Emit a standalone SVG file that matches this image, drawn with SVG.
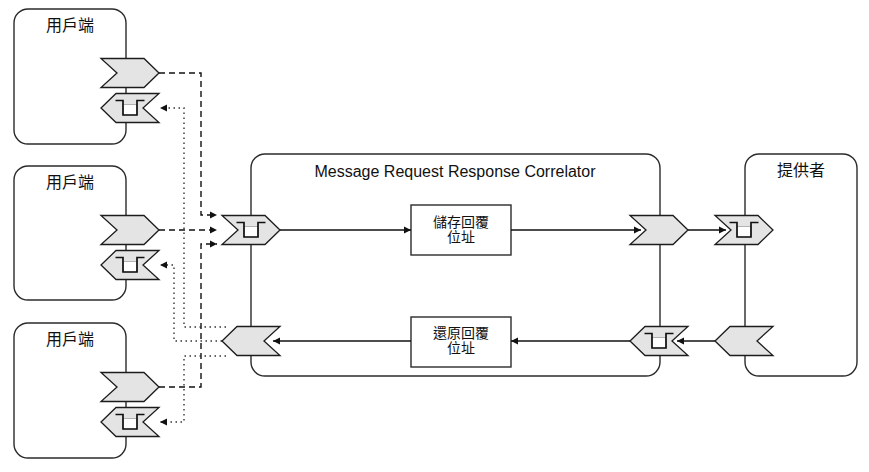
<svg xmlns="http://www.w3.org/2000/svg" width="869" height="472" viewBox="0 0 869 472">
<style>
text{font-family:"Liberation Sans","Noto Sans CJK TC",sans-serif;font-size:14px;fill:#111;text-anchor:middle}
.big{font-size:16px}
.box{fill:#fff;stroke:#2b2b2b;stroke-width:1.4}
.ch{fill:#e4e4e4;stroke:#1c1c1c;stroke-width:1.3;stroke-linejoin:miter}
.g{fill:#fff;stroke:#888;stroke-width:0.6}
.gt{fill:none;stroke:#111;stroke-width:1.7}
.c{fill:none;stroke:#111;stroke-width:1.3}
.dash{stroke-dasharray:6 4;stroke-width:1.4}
.dot{stroke-dasharray:1.5 3.5;stroke-width:1.4;stroke:#333}
</style>
<defs>
<marker id="a" markerUnits="userSpaceOnUse" markerWidth="8" markerHeight="8" refX="7" refY="4" orient="auto"><path d="M0 0.5L7 4L0 7.5Z" fill="#111"/></marker>
<g id="r"><path class="ch" d="M-29 -14.500H14L29 0L14 14.500H-29L-13 0Z"/></g>
<g id="l"><path class="ch" d="M29 -14.500H-14L-29 0L-14 14.500H29L13 0Z"/></g>
<g id="m"><path class="g" d="M-7 -3.500H7V7H-7Z"/><path class="gt" d="M-14.500 -7.500H-7V7H7V-7.500H14.500"/></g>
</defs>
<g id="client1"><rect class="box" x="14" y="9" width="112" height="135" rx="14"/><text class="big" x="70" y="31">用戶端</text></g>
<g id="client2"><rect class="box" x="14" y="166" width="112" height="134" rx="14"/><text class="big" x="70" y="188">用戶端</text></g>
<g id="client3"><rect class="box" x="14" y="323" width="112" height="135" rx="14"/><text class="big" x="70" y="345">用戶端</text></g>
<g id="correlator"><rect class="box" x="251" y="154" width="409" height="222" rx="14"/><text class="big" x="455" y="177">Message Request Response Correlator</text></g>
<g id="provider"><rect class="box" x="745" y="154" width="112" height="222" rx="14"/><text class="big" x="801" y="176">提供者</text></g>
<g id="store"><rect class="box" x="411" y="205" width="100" height="50"/><text x="461" y="227">儲存回覆</text><text x="461" y="242">位址</text></g>
<g id="restore"><rect class="box" x="411" y="317" width="100" height="50"/><text x="461" y="338">還原回覆</text><text x="461" y="353">位址</text></g>
<g id="connectors">
<path class="c dash" marker-end="url(#a)" d="M159 73H201V215H217"/>
<path class="c dash" marker-end="url(#a)" d="M159 230H217"/>
<path class="c dash" marker-end="url(#a)" d="M159 387H201V244H217"/>
<path class="c dot" marker-end="url(#a)" d="M226 327H184V108H160"/>
<path class="c dot" marker-end="url(#a)" d="M222 341H174V265H160"/>
<path class="c dot" marker-end="url(#a)" d="M226 356H184V422H160"/>
<path class="c" marker-end="url(#a)" d="M280 230H411"/>
<path class="c" marker-end="url(#a)" d="M511 230H641"/>
<path class="c" marker-end="url(#a)" d="M688 230H726"/>
<path class="c" marker-end="url(#a)" d="M715 341H677"/>
<path class="c" marker-end="url(#a)" d="M630 341H511"/>
<path class="c" marker-end="url(#a)" d="M411 341H273"/>
</g>
<g id="ports">
<use href="#r" x="130" y="73"/>
<use href="#l" x="130" y="108"/><use href="#m" x="130" y="108"/>
<use href="#r" x="130" y="230"/>
<use href="#l" x="130" y="265"/><use href="#m" x="130" y="265"/>
<use href="#r" x="130" y="387"/>
<use href="#l" x="130" y="422"/><use href="#m" x="130" y="422"/>
<use href="#r" x="251" y="230"/><use href="#m" x="251" y="230"/>
<use href="#l" x="251" y="341"/>
<use href="#r" x="659" y="230"/>
<use href="#l" x="659" y="341"/><use href="#m" x="659" y="341"/>
<use href="#r" x="744" y="230"/><use href="#m" x="744" y="230"/>
<use href="#l" x="744" y="341"/>
</g>
</svg>
